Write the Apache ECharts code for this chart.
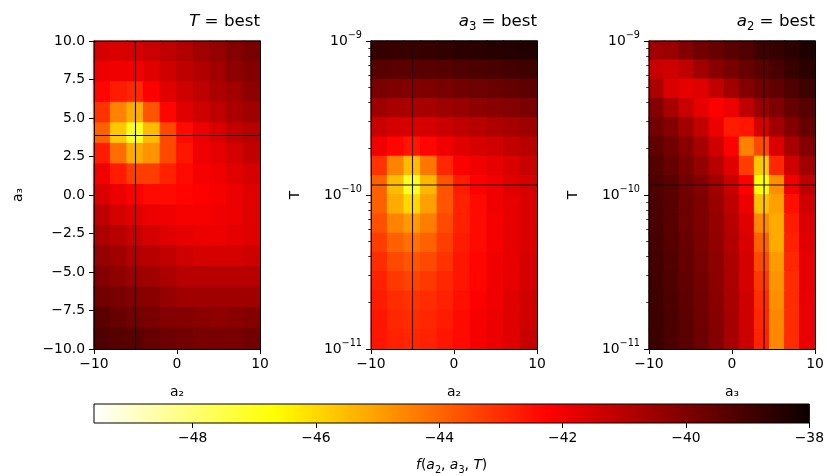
<!DOCTYPE html>
<html lang="en">
<head>
<meta charset="UTF-8">
<title>f(a2, a3, T) slices</title>
<script src="https://cdn.jsdelivr.net/npm/echarts@6/dist/echarts.min.js"></script>
<style>
    html, body { margin: 0; background: #fff; }
    #chart { width: 827px; height: 476px; }
</style>
</head>
<body>
<div id="chart"></div>
<script>
// ---- values ----
// cell centres
var a2Cols = [-9, -7, -5, -3, -1, 1, 3, 5, 7, 9];
var a3Cols = [-9.09, -7.27, -5.45, -3.64, -1.82, 0, 1.82, 3.64, 5.45, 7.27, 9.09];
var a3Rows = [9.33, 8, 6.67, 5.33, 4, 2.67, 1.33, 0, -1.33, -2.67, -4, -5.33, -6.67, -8, -9.33];   // top -> bottom
var logTRows = [-9.0625, -9.1875, -9.3125, -9.4375, -9.5625, -9.6875, -9.8125, -9.9375,
                -10.0625, -10.1875, -10.3125, -10.4375, -10.5625, -10.6875, -10.8125, -10.9375]; // top -> bottom

// T = best : rows a3Rows, cols a2Cols
var fTBest = [
    [-41.5, -41.6, -41.5, -41.3, -41.1, -40.9, -40.6, -40.4, -40.1, -39.9],
    [-41.9, -42.0, -42.0, -41.7, -41.4, -41.1, -40.9, -40.6, -40.3, -40.1],
    [-42.3, -42.7, -42.9, -42.2, -41.7, -41.4, -41.1, -40.8, -40.6, -40.3],
    [-43.1, -44.5, -45.2, -43.7, -42.3, -41.7, -41.4, -41.1, -40.8, -40.6],
    [-43.9, -45.7, -47.0, -45.5, -43.5, -42.4, -41.9, -41.6, -41.2, -41.0],
    [-42.7, -44.1, -45.2, -44.8, -43.5, -42.6, -42.0, -41.8, -41.5, -41.2],
    [-42.0, -42.7, -43.3, -43.3, -42.8, -42.4, -42.1, -42.0, -41.7, -41.5],
    [-41.6, -41.9, -42.2, -42.4, -42.4, -42.3, -42.2, -42.1, -41.9, -41.7],
    [-41.1, -41.5, -41.7, -41.9, -42.0, -42.1, -42.1, -42.0, -41.9, -41.7],
    [-40.8, -41.0, -41.3, -41.5, -41.7, -41.8, -41.9, -41.9, -41.8, -41.7],
    [-40.4, -40.6, -40.9, -41.0, -41.2, -41.4, -41.5, -41.5, -41.5, -41.4],
    [-40.1, -40.3, -40.5, -40.6, -40.8, -41.0, -41.0, -41.0, -41.0, -41.0],
    [-39.8, -39.9, -40.1, -40.2, -40.4, -40.6, -40.6, -40.6, -40.6, -40.6],
    [-39.4, -39.6, -39.8, -39.9, -40.1, -40.1, -40.2, -40.3, -40.2, -40.1],
    [-39.2, -39.3, -39.4, -39.6, -39.7, -39.8, -39.9, -39.9, -39.9, -39.8]
];

// a3 = best : rows logTRows, cols a2Cols
var fA3Best = [
    [-38.75, -38.8, -38.8, -38.75, -38.7, -38.6, -38.55, -38.5, -38.45, -38.4],
    [-39.3, -39.4, -39.4, -39.35, -39.3, -39.2, -39.15, -39.1, -39.0, -38.95],
    [-39.9, -40.0, -40.05, -40.0, -39.9, -39.8, -39.7, -39.65, -39.55, -39.45],
    [-40.55, -40.7, -40.75, -40.7, -40.55, -40.45, -40.3, -40.2, -40.1, -39.95],
    [-41.3, -41.5, -41.6, -41.5, -41.3, -41.1, -41.0, -40.85, -40.7, -40.55],
    [-42.0, -42.3, -42.6, -42.3, -42.0, -41.7, -41.55, -41.4, -41.2, -41.0],
    [-43.1, -44.5, -45.5, -44.3, -42.9, -42.2, -42.0, -41.8, -41.6, -41.3],
    [-43.9, -45.5, -47.1, -45.4, -43.7, -42.7, -42.2, -42.0, -41.7, -41.5],
    [-43.9, -45.2, -46.0, -45.0, -43.7, -42.8, -42.4, -42.0, -41.8, -41.6],
    [-43.6, -44.5, -44.9, -44.4, -43.5, -42.8, -42.4, -42.1, -41.8, -41.6],
    [-43.3, -43.9, -44.2, -43.9, -43.3, -42.7, -42.4, -42.1, -41.8, -41.6],
    [-43.0, -43.5, -43.7, -43.5, -43.1, -42.6, -42.3, -42.0, -41.8, -41.5],
    [-42.8, -43.2, -43.4, -43.2, -42.9, -42.6, -42.3, -42.0, -41.8, -41.5],
    [-42.7, -43.0, -43.1, -43.0, -42.8, -42.5, -42.2, -42.0, -41.7, -41.4],
    [-42.6, -42.9, -43.0, -42.9, -42.7, -42.4, -42.1, -41.9, -41.7, -41.4],
    [-42.6, -42.8, -42.9, -42.8, -42.6, -42.4, -42.1, -41.9, -41.7, -41.3]
];

// a2 = best : rows logTRows, cols a3Cols
var fA2Best = [
    [-40.6, -40.5, -40.1, -39.8, -39.6, -39.4, -39.2, -38.9, -38.75, -38.6, -38.35],
    [-41.3, -41.4, -41.1, -40.6, -40.2, -39.9, -39.6, -39.4, -39.1, -38.8, -38.6],
    [-40.8, -41.6, -41.8, -41.7, -41.2, -40.6, -40.1, -39.8, -39.5, -39.2, -38.9],
    [-40.1, -40.7, -41.3, -41.8, -42.2, -41.9, -41.1, -40.5, -40.0, -39.6, -39.3],
    [-39.8, -40.1, -40.6, -41.2, -41.9, -42.7, -42.6, -41.5, -40.6, -40.1, -39.6],
    [-39.5, -39.8, -40.2, -40.7, -41.4, -42.2, -44.5, -43.5, -41.6, -40.7, -40.1],
    [-39.3, -39.6, -39.95, -40.4, -41.0, -41.7, -43.3, -45.7, -42.9, -41.4, -40.6],
    [-39.2, -39.4, -39.8, -40.1, -40.6, -41.3, -42.2, -46.7, -44.7, -42.0, -41.1],
    [-39.1, -39.35, -39.7, -40.0, -40.5, -41.1, -41.9, -45.6, -45.0, -42.5, -41.4],
    [-39.1, -39.35, -39.7, -40.0, -40.4, -41.0, -41.7, -44.6, -45.2, -42.7, -41.6],
    [-39.05, -39.3, -39.6, -39.95, -40.35, -40.9, -41.6, -43.9, -45.2, -42.8, -41.7],
    [-39.0, -39.25, -39.55, -39.9, -40.3, -40.85, -41.5, -43.5, -44.9, -42.9, -41.8],
    [-38.95, -39.2, -39.5, -39.85, -40.25, -40.8, -41.5, -43.2, -44.8, -43.0, -41.8],
    [-38.9, -39.15, -39.45, -39.8, -40.2, -40.75, -41.4, -43.0, -44.7, -43.0, -41.85],
    [-38.9, -39.1, -39.4, -39.75, -40.15, -40.7, -41.4, -42.9, -44.6, -43.0, -41.85],
    [-38.85, -39.1, -39.4, -39.7, -40.1, -40.7, -41.35, -42.8, -44.6, -43.0, -41.85]
];

// best-fit point (crosshairs)
var bestA2 = -5;
var bestA3 = 3.86;
var bestLogT = -9.935;

// colour scale
var fMin = -49.6, fMax = -38;
var cbTicks = [-48, -46, -44, -42, -40, -38];

// ---- helpers ----
var FONT = 'DejaVu Sans';
var BLACK = '#000';

function minus(s) { return String(s).replace('-', '\u2212'); }

// matplotlib "hot_r"
function hotR(t) {
    t = Math.max(0, Math.min(1, t));
    var s = 1 - t, r, g, b;
    r = s < 0.365079 ? 0.0416 + (1 - 0.0416) * s / 0.365079 : 1;
    g = s < 0.365079 ? 0 : (s < 0.746032 ? (s - 0.365079) / (0.746032 - 0.365079) : 1);
    b = s < 0.746032 ? 0 : (s - 0.746032) / (1 - 0.746032);
    return 'rgb(' + Math.round(r * 255) + ',' + Math.round(g * 255) + ',' + Math.round(b * 255) + ')';
}
function colorOf(v) { return hotR((v - fMin) / (fMax - fMin)); }

var hotStops = [];
for (var k = 0; k <= 64; k++) hotStops.push({offset: k / 64, color: hotR(k / 64)});

var minorLog = [];
[-11, -10].forEach(function (e) {
    for (var m = 2; m <= 9; m++) minorLog.push(e + Math.log10(m));
});

var supRich = {
    b: {fontFamily: FONT, fontSize: 13.9, lineHeight: 22, color: BLACK},
    sup: {fontFamily: FONT, fontSize: 9.7, lineHeight: 12, verticalAlign: 'top', color: BLACK}
};
var mathRich = {
    i: {fontFamily: FONT, fontStyle: 'italic', fontSize: 16.7, lineHeight: 22, color: BLACK},
    n: {fontFamily: FONT, fontSize: 16.7, lineHeight: 22, color: BLACK},
    s: {fontFamily: FONT, fontSize: 11.7, lineHeight: 14, verticalAlign: 'bottom', color: BLACK}
};

var panels = [
    {left: 94, title: '{i|T}{n| = best}', xName: 'a\u2082', yName: 'a\u2083',
     cols: a2Cols, rows: a3Rows, z: fTBest, yMin: -10, yMax: 10, yStep: 2.5, log: false,
     cx: bestA2, cy: bestA3},
    {left: 371, title: '{i|a}{s|3}{n| = best}', xName: 'a\u2082', yName: 'T',
     cols: a2Cols, rows: logTRows, z: fA3Best, yMin: -11, yMax: -9, yStep: 1, log: true,
     cx: bestA2, cy: bestLogT},
    {left: 649, title: '{i|a}{s|2}{n| = best}', xName: 'a\u2083', yName: 'T',
     cols: a3Cols, rows: logTRows, z: fA2Best, yMin: -11, yMax: -9, yStep: 1, log: true,
     cx: bestA3, cy: bestLogT}
];

var grids = [], xAxes = [], yAxes = [], series = [], titles = [];
var spine = {show: true, onZero: false, lineStyle: {color: BLACK, width: 1}};
var tickFont = {fontFamily: FONT, fontSize: 13.9, color: BLACK};
var crossStyle = {color: '#111', width: 1.1};

panels.forEach(function (p, gi) {
    grids.push({left: p.left, width: 166, top: 41, height: 308});
    titles.push({
        text: p.title, right: 827 - (p.left + 166), top: 11, padding: 0,
        textStyle: {fontFamily: FONT, fontSize: 16.7, fontWeight: 'normal', color: BLACK, rich: mathRich}
    });

    var xc = xAxes.length;
    xAxes.push({gridIndex: gi, type: 'category', data: p.cols, position: 'top', z: 5,
        axisLine: spine, axisTick: {show: false}, axisLabel: {show: false}, splitLine: {show: false}});
    var xv = xAxes.length;
    xAxes.push({gridIndex: gi, type: 'value', min: -10, max: 10, interval: 10, position: 'bottom', z: 5,
        axisLine: spine, splitLine: {show: false},
        axisTick: {length: 5, lineStyle: {color: BLACK, width: 1}},
        axisLabel: Object.assign({margin: 8, formatter: function (v) { return minus(v); }}, tickFont),
        name: p.xName, nameLocation: 'middle', nameGap: 36,
        nameTextStyle: {fontFamily: FONT, fontSize: 13.9, color: BLACK}});

    var rowsUp = p.rows.slice().reverse();
    var yc = yAxes.length;
    yAxes.push({gridIndex: gi, type: 'category', data: rowsUp, position: 'right', z: 5,
        axisLine: spine, axisTick: {show: false}, axisLabel: {show: false}, splitLine: {show: false}});
    var yv = yAxes.length;
    yAxes.push({gridIndex: gi, type: 'value', min: p.yMin, max: p.yMax, interval: p.yStep, position: 'left', z: 5,
        axisLine: spine, splitLine: {show: false},
        axisTick: {length: 5, lineStyle: {color: BLACK, width: 1}},
        axisLabel: p.log
            ? {margin: 9, formatter: function (v) { return '{b|10}{sup|' + minus(v) + '}'; }, rich: supRich}
            : Object.assign({margin: 9, formatter: function (v) { return minus(v.toFixed(1)); }}, tickFont),
        name: p.yName, nameLocation: 'middle', nameGap: 69,
        nameTextStyle: {fontFamily: FONT, fontSize: 13.9, color: BLACK}});
    if (p.log) {
        yAxes.push({gridIndex: gi, type: 'value', min: p.yMin, max: p.yMax, position: 'left', z: 5,
            axisLine: {show: false, onZero: false}, splitLine: {show: false}, axisLabel: {show: false},
            axisTick: {length: 2.8, customValues: minorLog, lineStyle: {color: BLACK, width: 0.8}}});
    }

    // cells coloured with hot_r; border in the same colour closes the seams
    var cells = [];
    var n = p.rows.length;
    p.z.forEach(function (row, r) {
        row.forEach(function (v, c) {
            var col = colorOf(v);
            cells.push({value: [c, n - 1 - r, v], itemStyle: {color: col, borderColor: col, borderWidth: 1}});
        });
    });
    series.push({type: 'heatmap', xAxisIndex: xc, yAxisIndex: yc, data: cells,
        emphasis: {disabled: true}, silent: true, progressive: 0});
    series.push({type: 'line', xAxisIndex: xv, yAxisIndex: yv, data: [[p.cx, p.yMin], [p.cx, p.yMax]],
        symbol: 'none', silent: true, z: 4, lineStyle: crossStyle});
    series.push({type: 'line', xAxisIndex: xv, yAxisIndex: yv, data: [[-10, p.cy], [10, p.cy]],
        symbol: 'none', silent: true, z: 4, lineStyle: crossStyle});
});

// colour bar
var cbGrid = grids.length;
grids.push({left: 94, width: 720, top: 404, height: 20, show: true,
    backgroundColor: new echarts.graphic.LinearGradient(0, 0, 1, 0, hotStops),
    borderColor: BLACK, borderWidth: 1});
xAxes.push({gridIndex: cbGrid, type: 'value', min: fMin, max: fMax, position: 'bottom',
    axisLine: {show: false}, splitLine: {show: false},
    axisTick: {length: 5, customValues: cbTicks, lineStyle: {color: BLACK, width: 1}},
    axisLabel: Object.assign({margin: 8, customValues: cbTicks, formatter: function (v) { return minus(v); }}, tickFont),
    name: '{i|f}{n|(}{i|a}{s|2}{n|, }{i|a}{s|3}{n|, }{i|T}{n|)}', nameLocation: 'middle', nameGap: 32,
    nameTextStyle: {rich: {
        i: {fontFamily: FONT, fontStyle: 'italic', fontSize: 13.9, lineHeight: 20, color: BLACK},
        n: {fontFamily: FONT, fontSize: 13.9, lineHeight: 20, color: BLACK},
        s: {fontFamily: FONT, fontSize: 9.7, lineHeight: 12, verticalAlign: 'bottom', color: BLACK}
    }}});
yAxes.push({gridIndex: cbGrid, type: 'value', show: false});

var chart = echarts.init(document.getElementById('chart'), null, {renderer: 'canvas'});
chart.setOption({
    animation: false,
    backgroundColor: '#fff',
    title: titles,
    grid: grids,
    xAxis: xAxes,
    yAxis: yAxes,
    series: series
});
</script>
</body>
</html>
